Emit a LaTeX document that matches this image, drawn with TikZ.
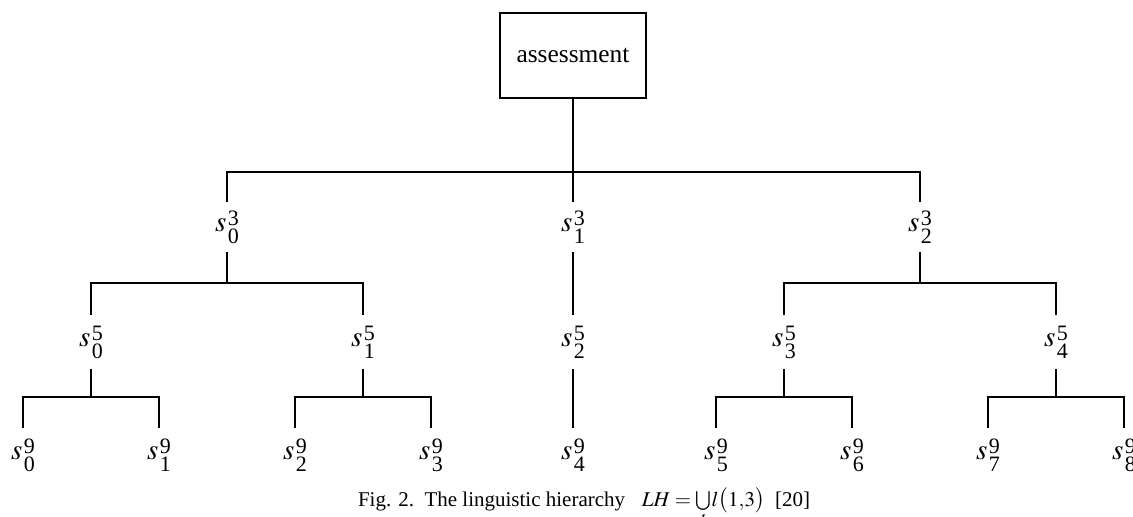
\documentclass[tikz,border=0pt]{standalone}
\usepackage{mathptmx}
\usepackage[no-math]{fontspec}
\setmainfont{Liberation Serif}
% linguistic term s with sub- and superscript set in large digits
\newcommand{\lterm}[2]{{\fontsize{14.5}{16}\selectfont$s$}\kern0.8pt{\fontsize{11}{13}\selectfont\rlap{\raisebox{3pt}{#2}}\raisebox{-6pt}{#1}}}

\begin{document}
\begin{tikzpicture}[x=0.5pt, y=-0.5pt, line width=1pt,
	term/.style={inner sep=0pt, minimum height=24pt},
	root/.style={draw, line width=1pt, minimum width=73pt, minimum height=42.5pt, inner sep=0pt, font=\fontsize{12.7}{15}\selectfont}]
			\useasboundingbox (0,0) rectangle (1133,517);
			\node[root](assess) at (573,55.5){assessment};
			% level 3 terms
			\node[term](s03) at (227,227){\lterm{0}{3}};
			\node[term](s13) at (573,227){\lterm{1}{3}};
			\node[term](s23) at (920,227){\lterm{2}{3}};
			% level 5 terms
			\node[term, minimum height=26pt](s05) at (91,342){\lterm{0}{5}};
			\node[term, minimum height=26pt](s15) at (363,342){\lterm{1}{5}};
			\node[term, minimum height=26pt](s25) at (573,342){\lterm{2}{5}};
			\node[term, minimum height=26pt](s35) at (784,342){\lterm{3}{5}};
			\node[term, minimum height=26pt](s45) at (1056,342){\lterm{4}{5}};
			% level 9 terms
			\node[term, minimum height=26pt](s09) at (23,455){\lterm{0}{9}};
			\node[term, minimum height=26pt](s19) at (159,455){\lterm{1}{9}};
			\node[term, minimum height=26pt](s29) at (295,455){\lterm{2}{9}};
			\node[term, minimum height=26pt](s39) at (431,455){\lterm{3}{9}};
			\node[term, minimum height=26pt](s49) at (573,455){\lterm{4}{9}};
			\node[term, minimum height=26pt](s59) at (716,455){\lterm{5}{9}};
			\node[term, minimum height=26pt](s69) at (852,455){\lterm{6}{9}};
			\node[term, minimum height=26pt](s79) at (988,455){\lterm{7}{9}};
			\node[term, minimum height=26pt](s89) at (1124,455){\lterm{8}{9}};
			% bars
			\coordinate (bar1) at (573,172);
			\coordinate (bar20) at (227,283);
			\coordinate (bar22) at (920,283);
			\coordinate (bar30) at (91,397);
			\coordinate (bar31) at (363,397);
			\coordinate (bar33) at (784,397);
			\coordinate (bar34) at (1056,397);
			\draw (assess.south) -- (bar1);
			\draw (s03.north) |- (bar1) -| (s23.north);
			\draw (bar1) -- (s13.north);
			\draw (s03.south) -- (bar20);
			\draw (s05.north) |- (bar20) -| (s15.north);
			\draw (s13.south) -- (s25.north);
			\draw (s23.south) -- (bar22);
			\draw (s35.north) |- (bar22) -| (s45.north);
			\draw (s05.south) -- (bar30);
			\draw (s09.north) |- (bar30) -| (s19.north);
			\draw (s15.south) -- (bar31);
			\draw (s29.north) |- (bar31) -| (s39.north);
			\draw (s25.south) -- (s49.north);
			\draw (s35.south) -- (bar33);
			\draw (s59.north) |- (bar33) -| (s69.north);
			\draw (s45.south) -- (bar34);
			\draw (s79.north) |- (bar34) -| (s89.north);
			% caption
			\node[anchor=base west, inner sep=0pt, font=\fontsize{10.5}{12}\selectfont](caption) at (357,506){Fig. 2.\ \ The linguistic hierarchy\hspace{0.8em}$LH=\bigcup\limits_t\! l\bigl(1{,}3\bigr)$\ \ [20]};
\end{tikzpicture}
\end{document}
